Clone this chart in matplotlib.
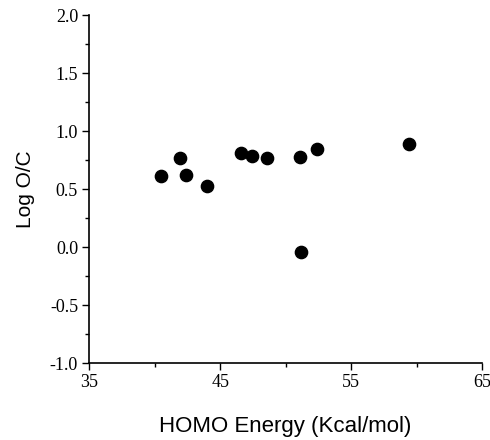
import numpy as np
import matplotlib.pyplot as plt
from matplotlib.ticker import MultipleLocator, FixedLocator, FormatStrFormatter

# HOMO energy (Kcal/mol) vs Log O/C
homo_energy = [40.5, 41.9, 42.4, 44.0, 46.6, 47.4, 48.6, 51.1, 52.4, 59.4, 51.2]
log_oc = [0.61, 0.77, 0.62, 0.53, 0.81, 0.79, 0.77, 0.78, 0.85, 0.89, -0.04]

x_major = [35, 45, 55, 65]
x_minor = [40, 50, 60]

fig = plt.figure(figsize=(4.9, 4.4), dpi=100)
ax = fig.add_axes([0.182, 0.175, 0.802, 0.790])

ax.scatter(homo_energy, log_oc, s=78, color='black', zorder=3)

ax.set_xlim(35, 65)
ax.set_ylim(-1.0, 2.0)
ax.xaxis.set_major_locator(FixedLocator(x_major))
ax.xaxis.set_minor_locator(FixedLocator(x_minor))
ax.yaxis.set_major_locator(MultipleLocator(0.5))
ax.yaxis.set_minor_locator(MultipleLocator(0.25))
ax.yaxis.set_major_formatter(FormatStrFormatter('%.1f'))

for side in ['top', 'right']:
    ax.spines[side].set_visible(False)
for side in ['left', 'bottom']:
    ax.spines[side].set_linewidth(1.2)

ax.tick_params(which='major', direction='out', length=5, width=1, pad=3)
ax.tick_params(which='minor', direction='out', length=3, width=1)
for lab in ax.get_xticklabels() + ax.get_yticklabels():
    lab.set_family('Liberation Serif')
    lab.set_fontsize(13)

ax.set_xlabel('HOMO Energy (Kcal/mol)', family='Liberation Sans', fontsize=16, labelpad=18)
ax.set_ylabel('Log O/C', family='Liberation Sans', fontsize=15, labelpad=11)

fig.savefig('out.png', dpi=100)
